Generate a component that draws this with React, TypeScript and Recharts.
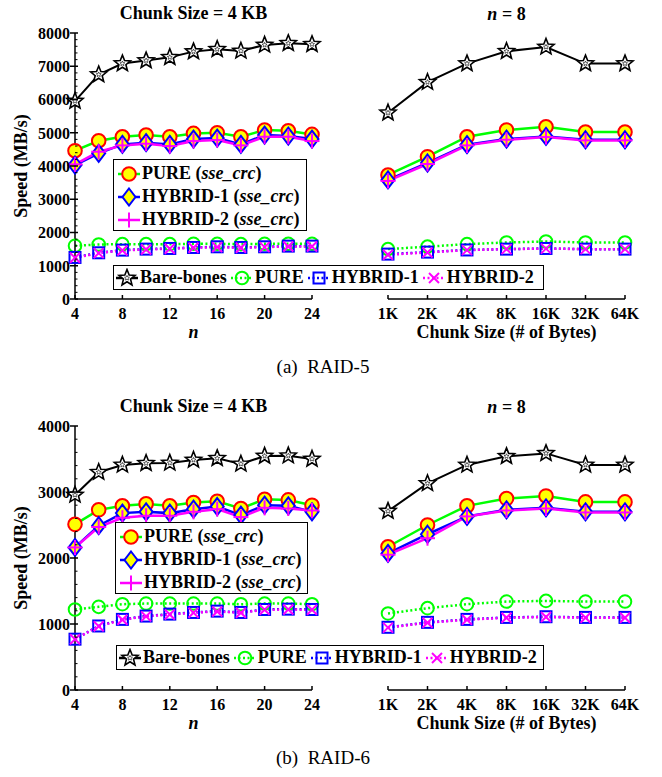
import React from 'react';
import { LineChart, Line, XAxis, YAxis } from 'recharts';

const N_VALUES = [4, 6, 8, 10, 12, 14, 16, 18, 20, 22, 24];
const N_TICKS = [4, 8, 12, 16, 20, 24];
const CHUNK_SIZES = ['1K', '2K', '4K', '8K', '16K', '32K', '64K'];

// RAID-5, chunk size = 4 KB, by n
const R5_N_BARE = [5950, 6750, 7080, 7170, 7270, 7440, 7510, 7460, 7640, 7690, 7660];
const R5_N_PURE_SSE = [4460, 4760, 4880, 4930, 4880, 4980, 5000, 4880, 5080, 5060, 4950];
const R5_N_HYB1_SSE = [4030, 4380, 4650, 4700, 4650, 4810, 4840, 4650, 4930, 4900, 4810];
const R5_N_HYB2_SSE = [4050, 4430, 4620, 4670, 4600, 4750, 4780, 4620, 4880, 4880, 4750];
const R5_N_PURE = [1600, 1640, 1650, 1650, 1650, 1660, 1660, 1650, 1660, 1660, 1660];
const R5_N_HYB1 = [1250, 1390, 1470, 1500, 1520, 1550, 1570, 1550, 1570, 1590, 1590];
const R5_N_HYB2 = [1240, 1380, 1460, 1490, 1510, 1540, 1560, 1540, 1560, 1580, 1580];

// RAID-5, n = 8, by chunk size
const R5_C_BARE = [5600, 6520, 7080, 7450, 7580, 7080, 7080];
const R5_C_PURE_SSE = [3730, 4280, 4880, 5080, 5180, 5020, 5020];
const R5_C_HYB1_SSE = [3580, 4090, 4640, 4810, 4890, 4790, 4790];
const R5_C_HYB2_SSE = [3550, 4060, 4620, 4790, 4870, 4770, 4770];
const R5_C_PURE = [1500, 1575, 1650, 1700, 1730, 1700, 1700];
const R5_C_HYB1 = [1350, 1410, 1475, 1500, 1520, 1500, 1500];
const R5_C_HYB2 = [1330, 1400, 1470, 1500, 1515, 1500, 1500];

// RAID-6, chunk size = 4 KB, by n
const R6_N_BARE = [2955, 3300, 3410, 3435, 3440, 3485, 3510, 3425, 3545, 3550, 3500];
const R6_N_PURE_SSE = [2510, 2730, 2790, 2820, 2790, 2840, 2860, 2750, 2890, 2880, 2800];
const R6_N_HYB1_SSE = [2160, 2490, 2680, 2700, 2680, 2740, 2780, 2650, 2800, 2790, 2700];
const R6_N_HYB2_SSE = [2160, 2470, 2610, 2640, 2640, 2700, 2740, 2620, 2760, 2750, 2720];
const R6_N_PURE = [1220, 1260, 1300, 1310, 1310, 1310, 1310, 1300, 1310, 1310, 1300];
const R6_N_HYB1 = [770, 970, 1070, 1120, 1150, 1175, 1195, 1175, 1220, 1225, 1220];
const R6_N_HYB2 = [770, 965, 1065, 1115, 1145, 1170, 1190, 1170, 1215, 1220, 1215];

// RAID-6, n = 8, by chunk size
const R6_C_BARE = [2710, 3130, 3410, 3540, 3585, 3410, 3410];
const R6_C_PURE_SSE = [2170, 2500, 2790, 2900, 2940, 2850, 2850];
const R6_C_HYB1_SSE = [2070, 2360, 2630, 2730, 2760, 2700, 2700];
const R6_C_HYB2_SSE = [2050, 2300, 2630, 2720, 2750, 2690, 2690];
const R6_C_PURE = [1160, 1240, 1300, 1340, 1350, 1340, 1340];
const R6_C_HYB1 = [950, 1025, 1070, 1100, 1110, 1100, 1100];
const R6_C_HYB2 = [945, 1020, 1065, 1095, 1105, 1095, 1095];

const FONT = "'Liberation Serif', 'Times New Roman', serif";
const GREEN = '#00ff00';
const BLUE = '#0000ff';
const MAGENTA = '#ff00ff';
const YELLOW = '#ffff00';
const RED = '#ff0000';
const DOTS = '2 2.5';

type Shape = 'star' | 'disc' | 'diamond' | 'plus' | 'ring' | 'square' | 'cross';

const SERIES: { key: string; stroke: string; width: number; dash?: string; shape: Shape }[] = [
  { key: 'bare', stroke: '#000', width: 2, shape: 'star' },
  { key: 'pureSse', stroke: GREEN, width: 2.5, shape: 'disc' },
  { key: 'hyb1Sse', stroke: BLUE, width: 2.5, shape: 'diamond' },
  { key: 'hyb2Sse', stroke: MAGENTA, width: 2.5, shape: 'plus' },
  { key: 'pure', stroke: GREEN, width: 2.5, dash: DOTS, shape: 'ring' },
  { key: 'hyb1', stroke: BLUE, width: 2.5, dash: DOTS, shape: 'square' },
  { key: 'hyb2', stroke: MAGENTA, width: 2.5, dash: DOTS, shape: 'cross' },
];

const buildRows = (xs: (number | string)[], xKey: string, cols: number[][]) =>
  xs.map((x, i) => {
    const row: any = { [xKey]: x };
    SERIES.forEach((s, j) => (row[s.key] = cols[j][i]));
    return row;
  });

const R5_N_ROWS = buildRows(N_VALUES, 'n', [R5_N_BARE, R5_N_PURE_SSE, R5_N_HYB1_SSE, R5_N_HYB2_SSE, R5_N_PURE, R5_N_HYB1, R5_N_HYB2]);
const R5_C_ROWS = buildRows(CHUNK_SIZES, 'c', [R5_C_BARE, R5_C_PURE_SSE, R5_C_HYB1_SSE, R5_C_HYB2_SSE, R5_C_PURE, R5_C_HYB1, R5_C_HYB2]);
const R6_N_ROWS = buildRows(N_VALUES, 'n', [R6_N_BARE, R6_N_PURE_SSE, R6_N_HYB1_SSE, R6_N_HYB2_SSE, R6_N_PURE, R6_N_HYB1, R6_N_HYB2]);
const R6_C_ROWS = buildRows(CHUNK_SIZES, 'c', [R6_C_BARE, R6_C_PURE_SSE, R6_C_HYB1_SSE, R6_C_HYB2_SSE, R6_C_PURE, R6_C_HYB1, R6_C_HYB2]);

const starPoints = (cx: number, cy: number, ro: number, ri: number) => {
  const pts: string[] = [];
  for (let i = 0; i < 10; i++) {
    const r = i % 2 === 0 ? ro : ri;
    const a = -Math.PI / 2 + (i * Math.PI) / 5;
    pts.push(`${cx + r * Math.cos(a)},${cy + r * Math.sin(a)}`);
  }
  return pts.join(' ');
};

function Marker({ shape, cx, cy }: { shape: Shape; cx: number; cy: number }) {
  switch (shape) {
    case 'star':
      return (
        <g>
          <polygon points={starPoints(cx, cy, 8.5, 3.7)} fill="#fff" stroke="#000" strokeWidth={1.6} />
          <polygon points={starPoints(cx, cy, 2.6, 1.2)} fill="none" stroke="#000" strokeWidth={0.6} />
        </g>
      );
    case 'disc':
      return <circle cx={cx} cy={cy} r={6.8} fill={YELLOW} stroke={RED} strokeWidth={2} />;
    case 'diamond':
      return (
        <polygon
          points={`${cx},${cy - 8.5} ${cx + 6.5},${cy} ${cx},${cy + 8.5} ${cx - 6.5},${cy}`}
          fill={YELLOW}
          stroke={BLUE}
          strokeWidth={2}
        />
      );
    case 'plus':
      return (
        <g stroke={MAGENTA} strokeWidth={2}>
          <line x1={cx - 7.5} y1={cy} x2={cx + 7.5} y2={cy} />
          <line x1={cx} y1={cy - 7.5} x2={cx} y2={cy + 7.5} />
        </g>
      );
    case 'ring':
      return <circle cx={cx} cy={cy} r={6.3} fill="none" stroke={GREEN} strokeWidth={2} />;
    case 'square':
      return <rect x={cx - 5.5} y={cy - 5.5} width={11} height={11} fill="none" stroke={BLUE} strokeWidth={2} />;
    case 'cross':
      return (
        <g stroke={MAGENTA} strokeWidth={2}>
          <line x1={cx - 5} y1={cy - 5} x2={cx + 5} y2={cy + 5} />
          <line x1={cx - 5} y1={cy + 5} x2={cx + 5} y2={cy - 5} />
        </g>
      );
  }
  return null;
}

const YTick = (props: any) => {
  const { x, y, payload } = props;
  const major = payload.value % 1000 === 0;
  if (!major) return <line x1={x} y1={y} x2={x + 2.5} y2={y} stroke="#000" strokeWidth={1} />;
  return (
    <g>
      <line x1={x - 5} y1={y} x2={x + 3} y2={y} stroke="#000" strokeWidth={1.5} />
      <text x={x - 5} y={y} dy="0.36em" textAnchor="end" fontFamily={FONT} fontWeight="bold" fontSize={16} fill="#000">
        {payload.value}
      </text>
    </g>
  );
};

const XTick = (props: any) => {
  const { x, y, payload } = props;
  return (
    <g>
      <line x1={x} y1={y} x2={x} y2={y - 4} stroke="#000" strokeWidth={1.5} />
      <text x={x} y={y + 20} textAnchor="middle" fontFamily={FONT} fontWeight="bold" fontSize={16} fill="#000">
        {payload.value}
      </text>
    </g>
  );
};

const renderLines = () =>
  SERIES.map((s) => (
    <Line
      key={s.key}
      dataKey={s.key}
      type="linear"
      stroke={s.stroke}
      strokeWidth={s.width}
      strokeDasharray={s.dash}
      isAnimationActive={false}
      dot={(p: any) => <Marker key={`${s.key}-${p.index}`} shape={s.shape} cx={p.cx} cy={p.cy} />}
      activeDot={false}
    />
  ));

function Sample({ shape, stroke, dash, width }: { shape: Shape; stroke: string; dash?: string; width: number }) {
  return (
    <svg width={width} height={20} style={{ display: 'block', flexShrink: 0 }}>
      <line x1={0} y1={10} x2={width} y2={10} stroke={stroke} strokeWidth={2.5} strokeDasharray={dash} />
      <Marker shape={shape} cx={width / 2} cy={10} />
    </svg>
  );
}

const SSE_LABELS = ['PURE', 'HYBRID-1', 'HYBRID-2'];
const BASE_LABELS = ['Bare-bones', 'PURE', 'HYBRID-1', 'HYBRID-2'];

function SseLegend({ left, top, width, height }: { left: number; top: number; width: number; height: number }) {
  return (
    <div
      style={{
        position: 'absolute', left, top, width, height, boxSizing: 'border-box',
        border: '1.5px solid #000', background: '#fff', paddingTop: 2, paddingLeft: 4,
      }}
    >
      {SSE_LABELS.map((name, i) => {
        const s = SERIES[i + 1];
        return (
          <div key={name} style={{ display: 'flex', alignItems: 'center', height: 23 }}>
            <Sample shape={s.shape} stroke={s.stroke} width={22} />
            <span style={{ marginLeft: 2, fontSize: 18, fontWeight: 'bold', whiteSpace: 'nowrap' }}>
              {name} (<i>sse_crc</i>)
            </span>
          </div>
        );
      })}
    </div>
  );
}

function BaseLegend({ left, top, width, height }: { left: number; top: number; width: number; height: number }) {
  return (
    <div
      style={{
        position: 'absolute', left, top, width, height, boxSizing: 'border-box',
        border: '1.5px solid #000', background: '#fff', paddingLeft: 2,
        display: 'flex', alignItems: 'center',
      }}
    >
      {BASE_LABELS.map((name, i) => {
        const s = SERIES[i === 0 ? 0 : i + 3];
        return (
          <div key={name} style={{ display: 'flex', alignItems: 'center', marginRight: 4 }}>
            <Sample shape={s.shape} stroke={s.stroke} dash={s.dash} width={22} />
            <span style={{ marginLeft: 2, fontSize: 18, fontWeight: 'bold', whiteSpace: 'nowrap' }}>{name}</span>
          </div>
        );
      })}
    </div>
  );
}

interface PanelProps {
  top: number;
  plotH: number;
  yMax: number;
  nRows: any[];
  cRows: any[];
  sseBox: number[];
  baseBox: number[];
  caption: string;
}

function Panel({ top, plotH, yMax, nRows, cRows, sseBox, baseBox, caption }: PanelProps) {
  const h = 33 + plotH + 46;
  // labelled ticks every 1000, minor ticks every 200
  const yTicks: number[] = [];
  for (let v = 0; v <= yMax; v += 200) yTicks.push(v);
  const plotBottom = top + 33 + plotH;
  const text = { position: 'absolute' as const, fontWeight: 'bold' as const, fontSize: 18, textAlign: 'center' as const, lineHeight: '20px', whiteSpace: 'nowrap' as const };
  return (
    <>
      <div style={{ position: 'absolute', left: 0, top }}>
        <LineChart width={340} height={h} data={nRows} margin={{ top: 33, right: 28, bottom: 16, left: 0 }}>
          <XAxis
            dataKey="n" type="number" domain={[4, 24]} ticks={N_TICKS} interval={0} height={30}
            tickSize={0} tickMargin={0} tickLine={false} tick={<XTick />}
            axisLine={{ stroke: '#000', strokeWidth: 1.5 }}
          />
          <YAxis
            type="number" domain={[0, yMax]} ticks={yTicks} interval={0} width={75}
            tickSize={0} tickMargin={0} tickLine={false} tick={<YTick />}
            axisLine={{ stroke: '#000', strokeWidth: 1.5 }}
          />
          {renderLines()}
        </LineChart>
      </div>
      <div style={{ position: 'absolute', left: 340, top }}>
        <LineChart width={322} height={h} data={cRows} margin={{ top: 33, right: 37, bottom: 16, left: 48 }}>
          <XAxis
            dataKey="c" type="category" interval={0} height={30}
            tickSize={0} tickMargin={0} tickLine={false} tick={<XTick />}
            axisLine={{ stroke: '#000', strokeWidth: 1.5 }}
          />
          <YAxis hide width={0} type="number" domain={[0, yMax]} />
          {renderLines()}
        </LineChart>
      </div>
      <div style={{ ...text, left: 75, width: 237, top: top + 3 }}>Chunk Size = 4 KB</div>
      <div style={{ ...text, left: 388, width: 237, top: top + 4 }}>
        <i>n</i> = 8
      </div>
      <div style={{ ...text, left: 75, width: 237, top: plotBottom + 23 }}>
        <i>n</i>
      </div>
      <div style={{ ...text, left: 388, width: 237, top: plotBottom + 23 }}>Chunk Size (# of Bytes)</div>
      <div
        style={{
          ...text, left: 21 - 80, width: 160, top: top + 33 + plotH / 2 - 10,
          transform: 'rotate(-90deg)',
        }}
      >
        Speed (MB/s)
      </div>
      <SseLegend left={sseBox[0]} top={sseBox[1]} width={sseBox[2]} height={sseBox[3]} />
      <BaseLegend left={baseBox[0]} top={baseBox[1]} width={baseBox[2]} height={baseBox[3]} />
      <div style={{ position: 'absolute', left: 223, width: 200, top: plotBottom + 57, textAlign: 'center', fontSize: 19, lineHeight: '22px', whiteSpace: 'pre' }}>
        {caption}
      </div>
    </>
  );
}

export default function App() {
  return (
    <div style={{ position: 'absolute', left: 0, top: 0, width: 662, height: 777, background: '#fff', fontFamily: FONT, color: '#000' }}>
      <Panel
        top={0} plotH={266} yMax={8000} nRows={R5_N_ROWS} cRows={R5_C_ROWS}
        sseBox={[113, 159, 194, 72]} baseBox={[113, 265, 431, 25]} caption={'(a)  RAID-5'}
      />
      <Panel
        top={393} plotH={264} yMax={4000} nRows={R6_N_ROWS} cRows={R6_C_ROWS}
        sseBox={[115, 522, 193, 72]} baseBox={[116, 645, 428, 25]} caption={'(b)  RAID-6'}
      />
    </div>
  );
}
